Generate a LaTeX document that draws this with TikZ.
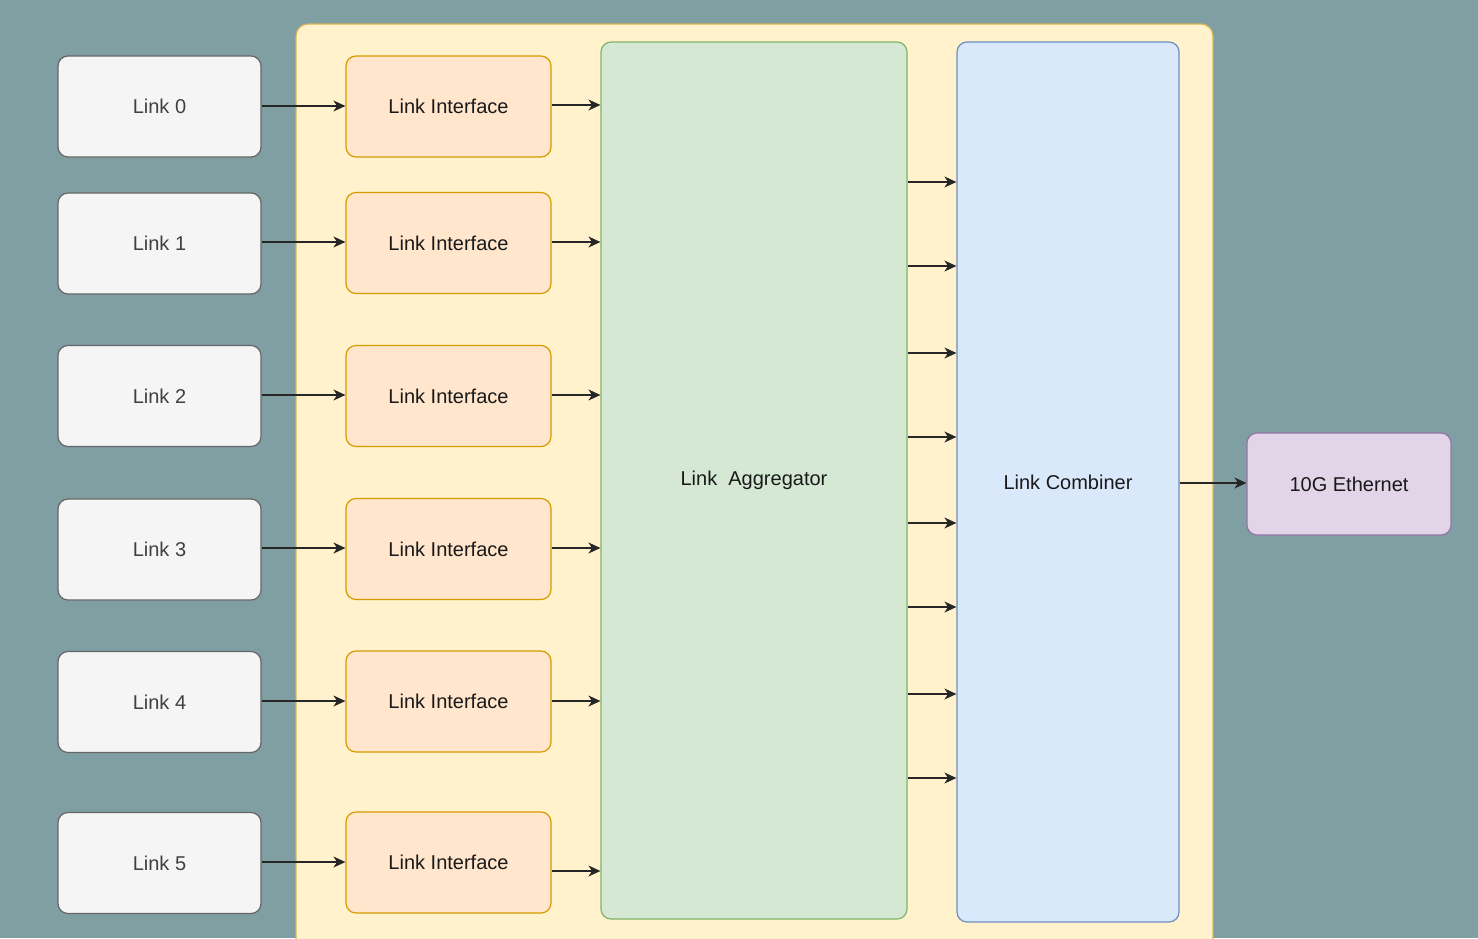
\documentclass[tikz,border=0pt]{standalone}
\usepackage{fontspec}
\setmainfont{Liberation Sans}
\usetikzlibrary{arrows.meta}
\definecolor{bgteal}{HTML}{809FA3}
\definecolor{contfill}{HTML}{FFF2CC}
\definecolor{contdraw}{HTML}{D6B656}
\definecolor{linkfill}{HTML}{F5F5F5}
\definecolor{linkdraw}{HTML}{666666}
\definecolor{lifill}{HTML}{FFE6CC}
\definecolor{lidraw}{HTML}{D79B00}
\definecolor{aggfill}{HTML}{D5E8D4}
\definecolor{aggdraw}{HTML}{82B366}
\definecolor{combfill}{HTML}{DAE8FC}
\definecolor{combdraw}{HTML}{6C8EBF}
\definecolor{ethfill}{HTML}{E1D5E7}
\definecolor{ethdraw}{HTML}{9673A6}
\tikzset{
  basebox/.style={rounded corners=5pt, line width=0.6pt, inner sep=0pt, font=\fontsize{10}{12}\selectfont},
  linkbox/.style={basebox, fill=linkfill, draw=linkdraw, text=black!75, minimum width=101.5pt, minimum height=50.5pt},
  libox/.style={basebox, fill=lifill, draw=lidraw, text=black!90, minimum width=102.5pt, minimum height=50.5pt},
  aggbox/.style={basebox, fill=aggfill, draw=aggdraw, text=black!90, minimum width=153pt, minimum height=438.5pt},
  combbox/.style={basebox, fill=combfill, draw=combdraw, text=black!90, minimum width=111pt, minimum height=440pt},
  ethbox/.style={basebox, fill=ethfill, draw=ethdraw, text=black!90, minimum width=102pt, minimum height=51pt},
  conn/.style={line width=0.65pt, draw=black!85, -{Stealth[length=6pt, width=5.5pt, inset=1.8pt]}}
}
\begin{document}
\begin{tikzpicture}[x=0.5pt, y=-0.5pt]
\useasboundingbox (0,0) rectangle (1478,938);
\fill[bgteal] (0,0) rectangle (1478,938);
\clip (0,0) rectangle (1478,938);
% container
\draw[fill=contfill, draw=contdraw, line width=0.6pt, rounded corners=6pt] (296,24) rectangle (1213,980);
% links
\node[linkbox] (l0) at (159.5,106.5) {Link 0};
\node[linkbox] (l1) at (159.5,243.5) {Link 1};
\node[linkbox] (l2) at (159.5,396) {Link 2};
\node[linkbox] (l3) at (159.5,549.5) {Link 3};
\node[linkbox] (l4) at (159.5,702) {Link 4};
\node[linkbox] (l5) at (159.5,863) {Link 5};
% link interfaces
\node[libox] (i0) at (448.5,106.5) {Link Interface};
\node[libox] (i1) at (448.5,243) {Link Interface};
\node[libox] (i2) at (448.5,396) {Link Interface};
\node[libox] (i3) at (448.5,549) {Link Interface};
\node[libox] (i4) at (448.5,701.5) {Link Interface};
\node[libox] (i5) at (448.5,862.5) {Link Interface};
% aggregator, combiner, ethernet
\node[aggbox] (agg) at (754,480.5) {\raisebox{-2pt}{Link\ \ Aggregator}};
\node[combbox] (comb) at (1068,482) {Link Combiner};
\node[ethbox] (eth) at (1349,484) {10G Ethernet};
% links -> interfaces
\draw[conn] (l0.east |- 0,106) -- (i0.west |- 0,106);
\draw[conn] (l1.east |- 0,242) -- (i1.west |- 0,242);
\draw[conn] (l2.east |- 0,395) -- (i2.west |- 0,395);
\draw[conn] (l3.east |- 0,548) -- (i3.west |- 0,548);
\draw[conn] (l4.east |- 0,701) -- (i4.west |- 0,701);
\draw[conn] (l5.east |- 0,862) -- (i5.west |- 0,862);
% interfaces -> aggregator
\draw[conn] (i0.east |- 0,105) -- (agg.west |- 0,105);
\draw[conn] (i1.east |- 0,242) -- (agg.west |- 0,242);
\draw[conn] (i2.east |- 0,395) -- (agg.west |- 0,395);
\draw[conn] (i3.east |- 0,548) -- (agg.west |- 0,548);
\draw[conn] (i4.east |- 0,701) -- (agg.west |- 0,701);
\draw[conn] (i5.east |- 0,871) -- (agg.west |- 0,871);
% aggregator -> combiner
\foreach \yy in {182,266,353,437,523,607,694,778}{
  \draw[conn] (agg.east |- 0,\yy) -- (comb.west |- 0,\yy);
}
% combiner -> ethernet
\draw[conn] (comb.east |- 0,483) -- (eth.west |- 0,483);
\end{tikzpicture}
\end{document}
